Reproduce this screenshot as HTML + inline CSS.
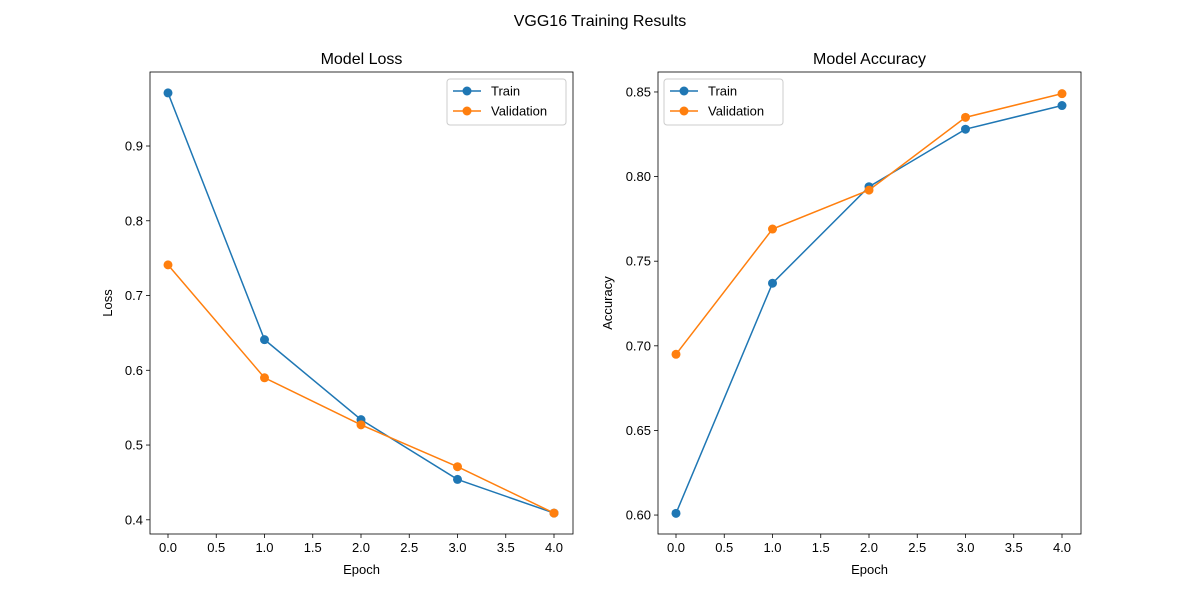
<!DOCTYPE html>
<html><head><meta charset="utf-8"><style>
body{margin:0;background:#fff}
svg text{font-family:"Liberation Sans","DejaVu Sans",sans-serif;fill:#000}
</style></head><body>
<svg id="fig" width="1200" height="600" xmlns="http://www.w3.org/2000/svg">
<text x="600" y="26" font-size="16" text-anchor="middle">VGG16 Training Results</text>
</svg>
<script>
const epochs=[0,1,2,3,4];
const lossTrain=[0.971,0.641,0.534,0.454,0.409];
const lossVal=[0.741,0.590,0.527,0.471,0.409];
const accTrain=[0.601,0.737,0.794,0.828,0.842];
const accVal=[0.695,0.769,0.792,0.835,0.849];
const xTicks=[0,0.5,1,1.5,2,2.5,3,3.5,4];
const lossTicks=[0.4,0.5,0.6,0.7,0.8,0.9];
const accTicks=[0.60,0.65,0.70,0.75,0.80,0.85];
const NS="http://www.w3.org/2000/svg";
const svg=document.getElementById('fig');
function mk(t,a,p){const e=document.createElementNS(NS,t);for(const k in a)e.setAttribute(k,a[k]);(p||svg).appendChild(e);return e;}
function panel(o){
 const g=mk('g',{});
 
 
 const L=o.L,R=o.R,T=72,B=534;
 const xs=v=>o.x0+(v)*(o.x4-o.x0)/4;
 const ys=v=>B-(v-o.ymin)/(o.ymax-o.ymin)*(B-T);
 xTicks.forEach(v=>{const x=xs(v);mk('line',{x1:x,x2:x,y1:B,y2:B+4,stroke:'#000','stroke-width':0.8},g);
  const t=mk('text',{x:x,y:B+18,'font-size':13,'text-anchor':'middle'},g);t.textContent=v.toFixed(1);});
 o.ticks.forEach(v=>{const y=ys(v);mk('line',{x1:L-4,x2:L,y1:y,y2:y,stroke:'#000','stroke-width':0.8},g);
  const t=mk('text',{x:L-7,y:y+4.5,'font-size':13,'text-anchor':'end'},g);t.textContent=v.toFixed(o.dec);});
 [[o.a,'#1f77b4','train-line'],[o.b,'#ff7f0e','validation-line']].forEach(([d,c,n])=>{
  const pl=mk('polyline',{points:d.map((v,i)=>xs(epochs[i])+','+ys(v)).join(' '),fill:'none',stroke:c,'stroke-width':1.5},g);
  
  
  d.forEach((v,i)=>{const m=mk('circle',{cx:xs(epochs[i]),cy:ys(v),r:4.5,fill:c},g);
   
   });
 });
 mk('rect',{x:L,y:T,width:R-L,height:B-T,fill:'none',stroke:'#000','stroke-width':0.8},g);
 let t=mk('text',{x:(L+R)/2,y:64,'font-size':16,'text-anchor':'middle'},g);t.textContent=o.title;
 t=mk('text',{x:(L+R)/2,y:574,'font-size':13,'text-anchor':'middle'},g);t.textContent='Epoch';
 t=mk('text',{x:0,y:0,'font-size':13,'text-anchor':'middle',transform:`translate(${L-o.ylOff},${(T+B)/2}) rotate(-90)`},g);t.textContent=o.ylabel;
 const lg=mk('g',{},g);
 
 
 mk('rect',{x:o.lx,y:79,width:119,height:46,rx:3,fill:'#fff',stroke:'#ccc'},lg);
 [['Train','#1f77b4',91],['Validation','#ff7f0e',111]].forEach(([n,c,y])=>{
  mk('line',{x1:o.lx+6,x2:o.lx+34,y1:y,y2:y,stroke:c,'stroke-width':1.5},lg);
  mk('circle',{cx:o.lx+20,cy:y,r:4.5,fill:c},lg);
  const tt=mk('text',{x:o.lx+44,y:y+4.5,'font-size':13},lg);tt.textContent=n;});
}
panel({name:'loss-panel',L:150,R:573,x0:168,x4:554,ymin:0.381,ymax:0.999,ticks:lossTicks,dec:1,a:lossTrain,b:lossVal,title:'Model Loss',ylabel:'Loss',ylOff:38,lx:447});
panel({name:'accuracy-panel',L:658,R:1081,x0:676,x4:1062,ymin:0.5888,ymax:0.8618,ticks:accTicks,dec:2,a:accTrain,b:accVal,title:'Model Accuracy',ylabel:'Accuracy',ylOff:46,lx:664});
</script>
</body></html>
